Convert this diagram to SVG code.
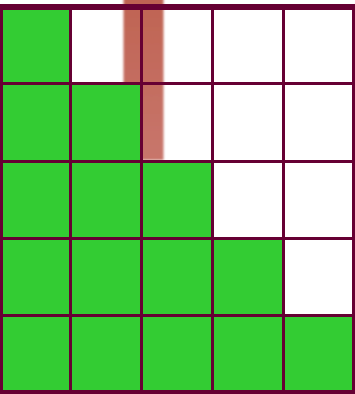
<svg xmlns="http://www.w3.org/2000/svg" width="355" height="394" viewBox="0 0 355 394">
<style>
.cell{fill:#33cc33;}
.grid{stroke:#660033;stroke-width:3;fill:none;}
.border{stroke:#660033;stroke-width:6;fill:none;}
</style>
<defs>
<filter id="soft" x="-20%" y="-5%" width="140%" height="110%"><feGaussianBlur stdDeviation="1.2 0.8"/></filter>
<linearGradient id="barg" x1="0" y1="0" x2="0" y2="1"><stop offset="0" stop-color="#bf6352"/><stop offset="1" stop-color="#c8766c"/></linearGradient>
</defs>
<rect width="355" height="394" fill="#ffffff"/>
<g id="bar"><rect x="123.5" y="-5" width="40" height="165" fill="url(#barg)" filter="url(#soft)"/></g>
<g id="cells">
<rect class="cell" x="0" y="7" width="70.5" height="76.5"/>
<rect class="cell" x="0" y="83.5" width="141.5" height="78"/>
<rect class="cell" x="0" y="161.5" width="212.5" height="77"/>
<rect class="cell" x="0" y="238.5" width="283.5" height="77"/>
<rect class="cell" x="0" y="315.5" width="355" height="78"/>
</g>
<g id="connectors">
<path class="grid" d="M70.5 7V394M141.5 7V394M212.5 7V394M283.5 7V394M0 83.5H355M0 161.5H355M0 238.5H355M0 315.5H355"/>
<rect class="border" x="0" y="7" width="355" height="386"/>
</g>
</svg>
